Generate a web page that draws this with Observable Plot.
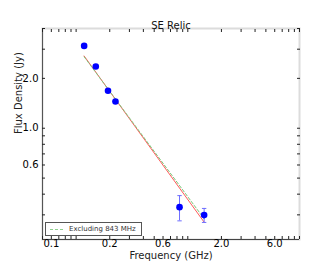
<!DOCTYPE html>
<html><head><meta charset="utf-8">
<script src="https://cdn.jsdelivr.net/npm/d3@7"></script>
<script src="https://cdn.jsdelivr.net/npm/@observablehq/plot@0.6"></script>
<style>
body{margin:0;background:#fff}
#chart{position:relative;width:332px;height:266px;font-family:"DejaVu Sans",sans-serif}
#legend{position:absolute;left:45px;top:222px;width:95px;height:12px;border:1px solid #555;background:#fff;box-sizing:content-box}
#legend svg{position:absolute;left:0;top:0}
#legend span{position:absolute;left:23px;top:1px;font-size:7px;color:#333;white-space:nowrap;line-height:10px}
</style>
</head><body><div id="chart"><div id="legend"><svg width="20" height="12"><line x1="4" y1="6.5" x2="17" y2="6.5" stroke="#8fd08f" stroke-dasharray="3,2"/></svg><span id="legtext"></span></div></div>
<script>
// data
const freq = [0.118, 0.150, 0.193, 0.225, 0.843, 1.40];     // GHz
const flux = [3.14, 2.36, 1.685, 1.45, 0.334, 0.299];      // Jy
const fluxErr = [0, 0, 0, 0, 0.058, 0.029];
const fitAllFreq = [0.118, 1.40];
const fitAllFlux = [2.73, 0.271];
const fitExclFreq = [0.118, 1.40];
const fitExclFlux = [2.70, 0.284];
const xTickValues = [0.06, 0.2, 0.6, 2, 6];
const xTickLabels = ["0.1", "0.2", "0.6", "2.0", "6.0"];
const yTickValues = [2, 1, 0.6];
const yTickLabels = ["2.0", "1.0", "0.6"];
const titleText = "SE Relic";
const xLabel = "Frequency (GHz)";
const yLabel = "Flux Density (Jy)";
const legendLabel = "Excluding 843 MHz";

const xDomain = [0.05, 10];
const yDomain = [0.213, 4.0];

const points = freq.map((f, i) => ({f, s: flux[i], e: fluxErr[i]}));
const errPts = points.filter(d => d.e > 0);
const caps = errPts.flatMap(d => [{f: d.f, s: d.s - d.e}, {f: d.f, s: d.s + d.e}]);
const fitAll = fitAllFreq.map((f, i) => ({f, s: fitAllFlux[i]}));
const fitExcl = fitExclFreq.map((f, i) => ({f, s: fitExclFlux[i]}));
const xLab = xTickValues.map((v, i) => ({v, t: xTickLabels[i]}));
const yLab = yTickValues.map((v, i) => ({v, t: yTickLabels[i]}));

// minor log ticks n*10^k inside domain
const logTicks = (lo, hi) => {
  const out = [];
  for (let k = -3; k <= 2; k++) for (let n = 1; n <= 9; n++) {
    const v = +(n * Math.pow(10, k)).toPrecision(6);
    if (v >= lo * 0.9999 && v <= hi * 1.0001) out.push(v);
  }
  return out;
};
const xAll = logTicks(xDomain[0], xDomain[1]);
const yAll = logTicks(yDomain[0], yDomain[1]);

const capSymbol = {draw(ctx, size) { const r = Math.sqrt(size / Math.PI); ctx.moveTo(-r, 0); ctx.lineTo(r, 0); }};

const chart = Plot.plot({
  width: 332, height: 266,
  marginTop: 28, marginRight: 33, marginBottom: 27, marginLeft: 42,
  style: {fontFamily: "DejaVu Sans, sans-serif", fontSize: "10px", color: "#000", background: "#fff"},
  x: {type: "log", domain: xDomain},
  y: {type: "log", domain: yDomain},
  marks: [
    Plot.frame({stroke: "#dcdcdc", strokeWidth: 2}),
    Plot.ruleX([xDomain[0]], {stroke: "#555"}),
    Plot.ruleY([yDomain[0]], {stroke: "#444"}),
    Plot.axisX(xAll, {anchor: "bottom", tickSize: -3, fill: "none", label: null, stroke: "#222"}),
    Plot.axisX(xAll, {anchor: "top", tickSize: -3, fill: "none", label: null, stroke: "#222"}),
    Plot.axisY(yAll, {anchor: "left", tickSize: -3, fill: "none", label: null, stroke: "#222"}),
    Plot.axisY(yAll, {anchor: "right", tickSize: -3, fill: "none", label: null, stroke: "#222"}),
    Plot.text(xLab, {x: "v", text: "t", frameAnchor: "bottom", dy: 7.5, fill: "#000", fontSize: 10}),
    Plot.text(yLab, {y: "v", text: "t", frameAnchor: "left", dx: -4, textAnchor: "end", fill: "#000", fontSize: 10}),
    Plot.line(fitAll, {x: "f", y: "s", stroke: "#ff5a5a", strokeWidth: 1}),
    Plot.line(fitExcl, {x: "f", y: "s", stroke: "#7cc87c", strokeWidth: 1, strokeDasharray: "3,2"}),
    Plot.ruleX(errPts, {x: "f", y1: d => d.s - d.e, y2: d => d.s + d.e, stroke: "#6f6fff", strokeWidth: 1}),
    Plot.dot(caps, {x: "f", y: "s", symbol: capSymbol, r: 2.2, stroke: "#6f6fff", fill: "none", strokeWidth: 1}),
    Plot.dot(points, {x: "f", y: "s", r: 3.3, fill: "#0000ff", stroke: null}),
    Plot.text([titleText], {frameAnchor: "top", dy: -7, fill: "#111", fontSize: 10}),
    Plot.text([xLabel], {frameAnchor: "bottom", dy: 19.5, fill: "#222", fontSize: 10}),
    Plot.text([yLabel], {frameAnchor: "left", dx: -24, rotate: -90, fill: "#222", fontSize: 10})
  ]
});
const holder = document.getElementById("chart");
holder.insertBefore(chart, holder.firstChild);
document.getElementById("legtext").textContent = legendLabel;
</script>
</body></html>
